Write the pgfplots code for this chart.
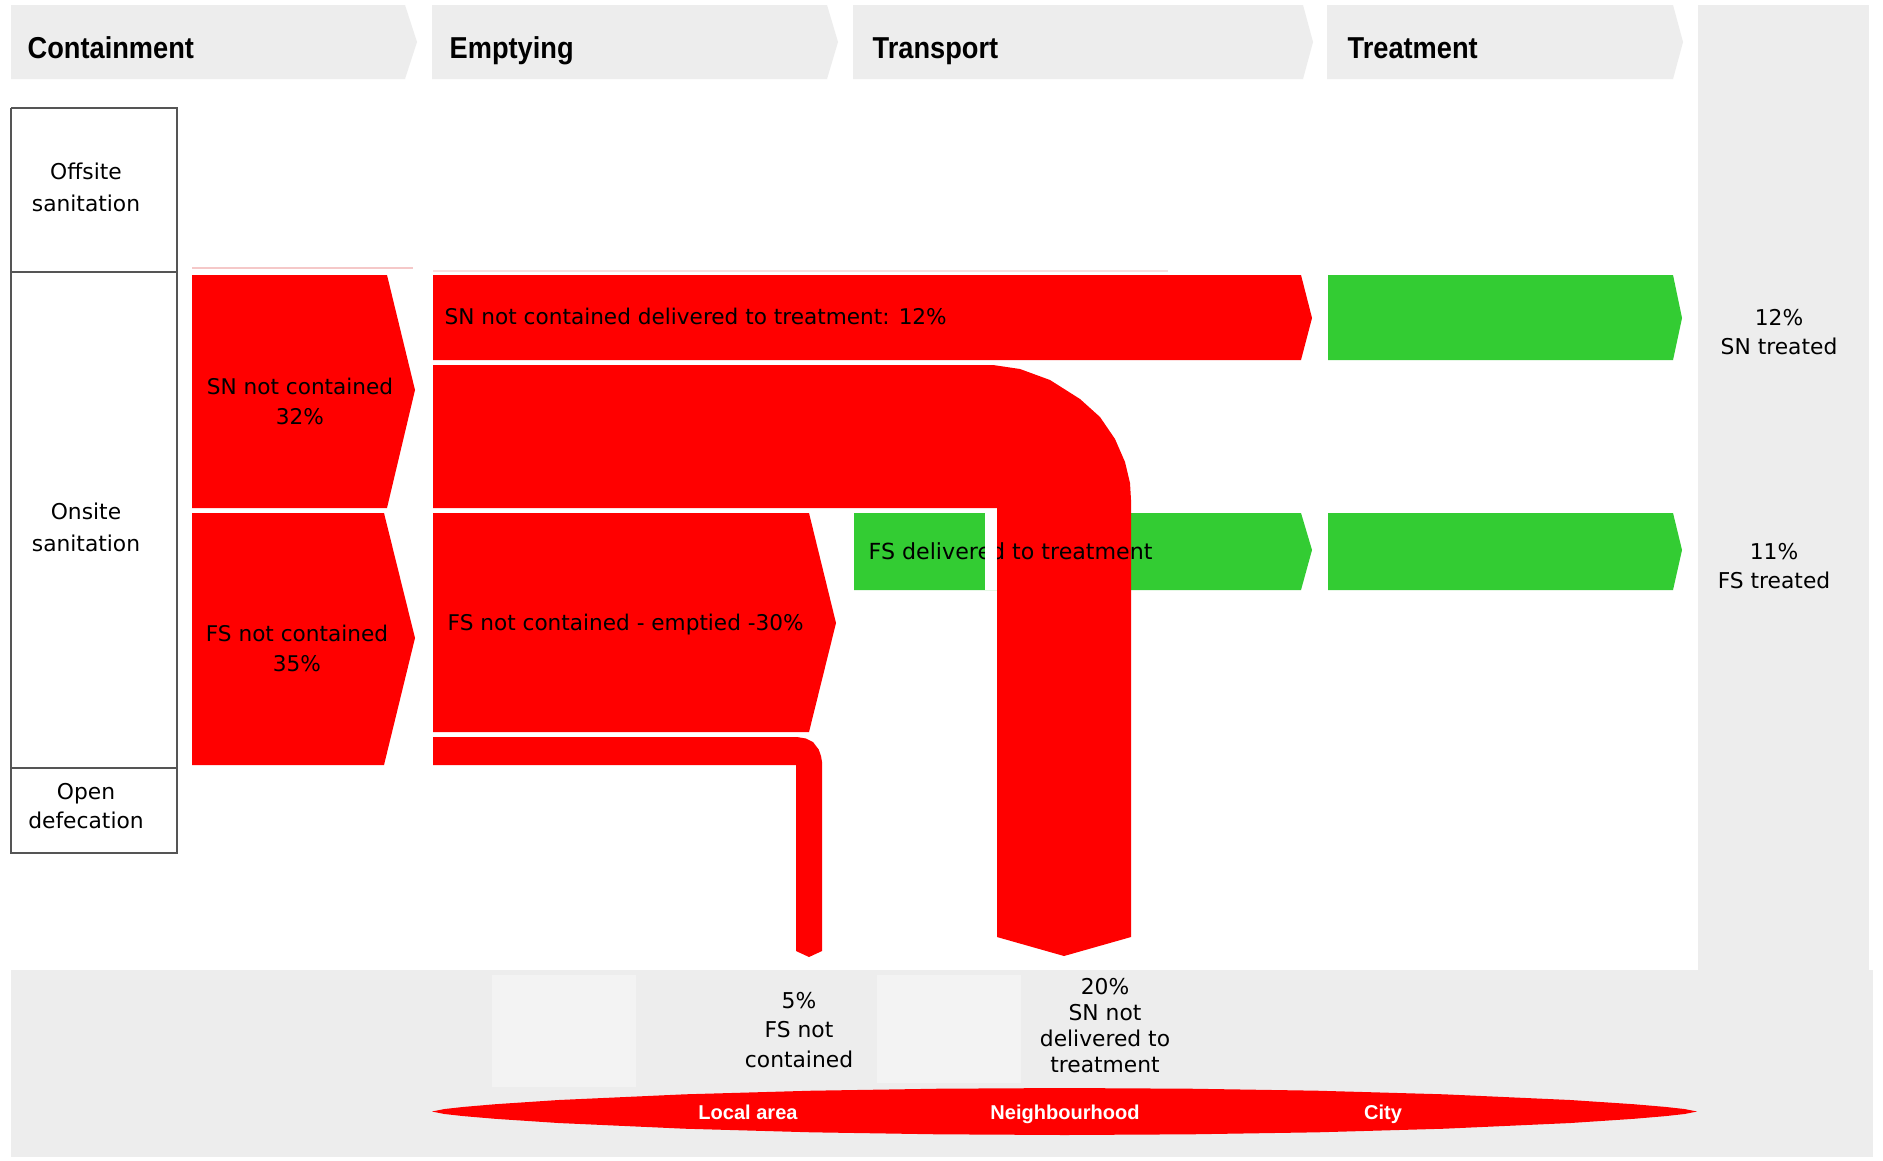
\documentclass[border=0pt]{standalone}
\usepackage{fontspec}
\setmainfont{Liberation Sans}
\newfontfamily\lab{DejaVu Sans}
\usepackage{pgfplots}
\pgfplotsset{compat=1.18}
\definecolor{sfdred}{RGB}{255,0,0}
\definecolor{sfdgreen}{RGB}{51,204,51}
\definecolor{bg}{RGB}{237,237,237}
\definecolor{bglight}{RGB}{243,243,243}
\definecolor{boxline}{RGB}{85,85,85}
\definecolor{faint}{RGB}{245,200,200}
\newcommand{\hdr}[1]{\scalebox{0.9}[1]{\bfseries\fontsize{8.6}{10}\selectfont #1}}
\begin{document}
\begin{tikzpicture}
\begin{axis}[width=18.83cm, height=11.6cm, scale only axis,
  xmin=0, xmax=1883, ymin=0, ymax=1160, y dir=reverse,
  hide axis, clip=false]
% background
\addplot[fill=white, draw=none] coordinates {(0,0) (1883,0) (1883,1160) (0,1160)};
% right grey column and bottom band
\addplot[fill=bg, draw=none] coordinates {(1698,5) (1869,5) (1869,972) (1698,972)};
\addplot[fill=bg, draw=none] coordinates {(11,970) (1873,970) (1873,1157) (11,1157)};
\addplot[fill=bglight, draw=none] coordinates {(492,975) (636,975) (636,1087) (492,1087)};
\addplot[fill=bglight, draw=none] coordinates {(877,975) (1021,975) (1021,1083) (877,1083)};
% header chevrons
\addplot[fill=bg, draw=none] coordinates {(11,5) (405,5) (417,42) (405,79) (11,79)};
\addplot[fill=bg, draw=none] coordinates {(432,5) (827,5) (838,42) (827,79) (432,79)};
\addplot[fill=bg, draw=none] coordinates {(853,5) (1303,5) (1313,42) (1303,79) (853,79)};
\addplot[fill=bg, draw=none] coordinates {(1327,5) (1673,5) (1683,42) (1673,79) (1327,79)};
% left label boxes
\addplot[draw=boxline, line width=0.6pt, fill=white] coordinates {(11,108) (177,108) (177,272) (11,272) (11,108)};
\addplot[draw=boxline, line width=0.6pt, fill=white] coordinates {(11,272) (177,272) (177,768) (11,768) (11,272)};
\addplot[draw=boxline, line width=0.6pt, fill=white] coordinates {(11,768) (177,768) (177,853) (11,853) (11,768)};
% faint lines
\addplot[draw=faint, line width=0.4pt] coordinates {(192,268) (413,268)};
\addplot[draw=faint!60, line width=0.4pt] coordinates {(433,271) (1168,271)};
% containment
\addplot[fill=sfdred, draw=none] coordinates {(192,275) (387,275) (415,390) (387,508) (192,508)};
\addplot[fill=sfdred, draw=none] coordinates {(192,513) (384,513) (415,638) (384,765) (192,765)};
% emptying / transport
\addplot[fill=sfdred, draw=none] coordinates {(433,275) (1301,275) (1312,318) (1301,360) (433,360)};
\addplot[fill=sfdred, draw=none] coordinates {(433,513) (809,513) (836,623) (809,732) (433,732)};
\addplot[fill=sfdgreen, draw=none] coordinates {(854,513) (1301,513) (1312,550) (1301,590) (854,590)};
% FS not contained 5% pipe
\addplot[fill=sfdred, draw=none] coordinates {(433,737) (797,737) (806,738.5) (813,742) (818.7,749.5) (821,756) (822,762) (822,951) (809,957) (796,951) (796,765) (433,765)};
% SN not delivered 20% pipe
\addplot[fill=sfdred, draw=none] coordinates {(433,365) (993,365) (1020,369) (1050,380) (1080,399) (1100,417) (1115,439) (1125,462) (1130,483) (1131,500) (1131,937) (1064,956) (997,937) (997,508) (433,508)};
% treatment
\addplot[fill=sfdgreen, draw=none] coordinates {(1328,275) (1673,275) (1682,318) (1673,360) (1328,360)};
\addplot[fill=sfdgreen, draw=none] coordinates {(1328,513) (1673,513) (1682,550) (1673,590) (1328,590)};
% red lens
\addplot[fill=sfdred, draw=none] coordinates {
 (432,1111.5) (444.6,1109.0) (463.6,1106.9) (495.3,1104.2) (558.5,1100.0) (685,1094.3) (811.5,1090.7) (938,1088.7) (1064.5,1088) (1191,1088.7) (1317.5,1090.7) (1444,1094.3) (1570.5,1100.0) (1633.7,1104.2) (1665.4,1106.9) (1684.4,1109.0) (1697,1111.5)
 (1684.4,1114.0) (1665.4,1116.1) (1633.7,1118.8) (1570.5,1123.0) (1444,1128.7) (1317.5,1132.3) (1191,1134.3) (1064.5,1135) (938,1134.3) (811.5,1132.3) (685,1128.7) (558.5,1123.0) (495.3,1118.8) (463.6,1116.1) (444.6,1114.0)};
% headers
\node[anchor=base west, inner sep=0pt] at (axis cs:27,58) {\hdr{Containment}};
\node[anchor=base west, inner sep=0pt] at (axis cs:449,58) {\hdr{Emptying}};
\node[anchor=base west, inner sep=0pt] at (axis cs:872,58) {\hdr{Transport}};
\node[anchor=base west, inner sep=0pt] at (axis cs:1347,58) {\hdr{Treatment}};
% left labels
\node[align=center, font=\lab\fontsize{6.2}{9.1}\selectfont] at (axis cs:86,187) {Offsite\\sanitation};
\node[align=center, font=\lab\fontsize{6.2}{9.1}\selectfont] at (axis cs:86,527) {Onsite\\sanitation};
\node[align=center, font=\lab\fontsize{6.2}{8.5}\selectfont] at (axis cs:86,806) {Open\\defecation};
% block labels
\node[align=center, font=\lab\fontsize{6.15}{8.5}\selectfont] at (axis cs:300,401) {SN not contained\\32\%};
\node[align=center, font=\lab\fontsize{6.15}{8.5}\selectfont] at (axis cs:297,648) {FS not contained\\35\%};
\node[anchor=west, inner sep=0pt, font=\lab\fontsize{6.15}{8.5}\selectfont] at (axis cs:444,316) {SN not contained delivered to treatment: 12\%};
\node[anchor=west, inner sep=0pt, font=\lab\fontsize{6.15}{8.5}\selectfont] at (axis cs:447,625) {FS not contained - emptied -30\%};
\node[anchor=west, inner sep=0pt, font=\lab\fontsize{6.3}{8.5}\selectfont] at (axis cs:868,551) {FS delivered to treatment};
\addplot[fill=white, draw=none] coordinates {(985,513) (997,513) (997,590) (985,590)};
% right labels
\node[align=center, font=\lab\fontsize{6.2}{8.3}\selectfont] at (axis cs:1779,332) {12\%\\SN treated};
\node[align=center, font=\lab\fontsize{6.2}{8.3}\selectfont] at (axis cs:1774,566) {11\%\\FS treated};
% bottom labels
\node[align=center, font=\lab\fontsize{6.2}{8.5}\selectfont] at (axis cs:799,1030) {5\%\\FS not\\contained};
\node[align=center, font=\lab\fontsize{6.2}{7.4}\selectfont] at (axis cs:1105,1026) {20\%\\SN not\\delivered to\\treatment};
% lens labels
\node[anchor=base, inner sep=0pt, text=white, font=\bfseries\fontsize{5.7}{7}\selectfont] at (axis cs:748,1119) {Local area};
\node[anchor=base, inner sep=0pt, text=white, font=\bfseries\fontsize{5.7}{7}\selectfont] at (axis cs:1065,1119) {Neighbourhood};
\node[anchor=base, inner sep=0pt, text=white, font=\bfseries\fontsize{5.7}{7}\selectfont] at (axis cs:1383,1119) {City};
\end{axis}
\end{tikzpicture}
\end{document}
